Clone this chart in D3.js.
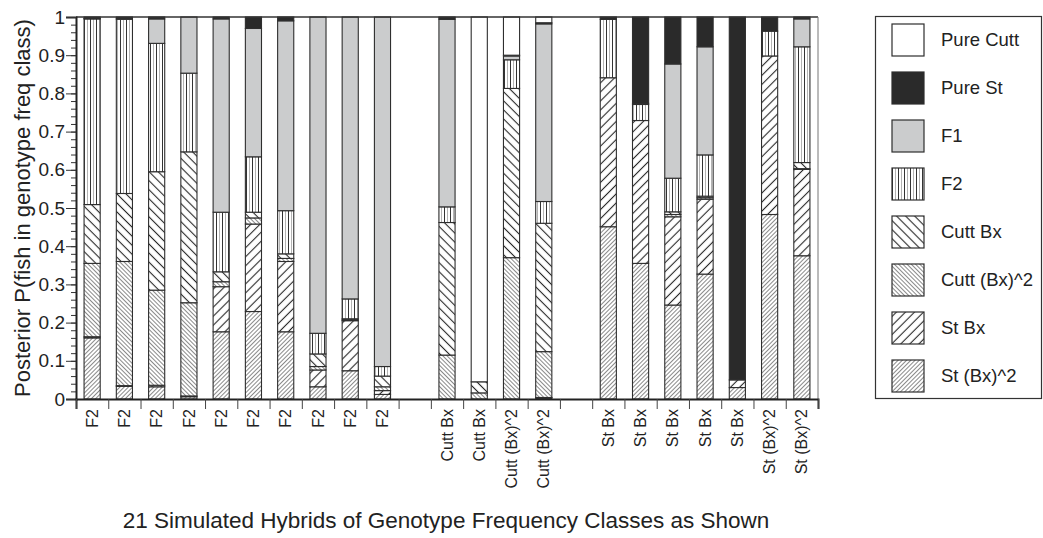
<!DOCTYPE html>
<html>
<head>
<meta charset="utf-8">
<script src="https://cdn.jsdelivr.net/npm/d3@7"></script>
<style>
  body { margin: 0; background: #fff; }
  svg { display: block; }
  text { font-family: "Liberation Sans", Arial, Helvetica, sans-serif; fill: #222; }
</style>
</head>
<body>
<svg id="chart" width="1043" height="538"></svg>
<script>
// Simulated hybrids: true genotype frequency class of each fish
const hybridLabels = [
  "F2", "F2", "F2", "F2", "F2", "F2", "F2", "F2", "F2", "F2",
  "Cutt Bx", "Cutt Bx", "Cutt (Bx)^2", "Cutt (Bx)^2",
  "St Bx", "St Bx", "St Bx", "St Bx", "St Bx", "St (Bx)^2", "St (Bx)^2"
];
const hybridGroups = [
  "F2", "F2", "F2", "F2", "F2", "F2", "F2", "F2", "F2", "F2",
  "Cutt", "Cutt", "Cutt", "Cutt",
  "St", "St", "St", "St", "St", "St", "St"
];

// Posterior probability of each genotype class, one value per hybrid
const stBx2    = [0.160, 0.033, 0.032, 0.006, 0.176, 0.229, 0.176, 0.032, 0.074, 0.012, 0, 0, 0, 0.003, 0.451, 0.355, 0.246, 0.327, 0.030, 0.483, 0.375];
const stBx     = [0.003, 0.002, 0.004, 0.002, 0.118, 0.229, 0.184, 0.044, 0.131, 0.010, 0, 0, 0, 0.001, 0.390, 0.374, 0.231, 0.196, 0.020, 0.415, 0.226];
const cuttBx2  = [0.192, 0.325, 0.249, 0.244, 0.013, 0.016, 0.008, 0.009, 0.002, 0.010, 0.115, 0.016, 0.370, 0.120, 0, 0, 0.006, 0.004, 0, 0, 0.002];
const cuttBx   = [0.154, 0.178, 0.310, 0.395, 0.026, 0.015, 0.012, 0.033, 0.003, 0.028, 0.347, 0.029, 0.443, 0.336, 0, 0, 0.007, 0.004, 0, 0, 0.016];
const f2       = [0.486, 0.456, 0.336, 0.206, 0.156, 0.145, 0.113, 0.054, 0.052, 0.025, 0.041, 0, 0.075, 0.057, 0.153, 0.042, 0.088, 0.108, 0, 0.065, 0.303];
const f1       = [0.001, 0.003, 0.064, 0.147, 0.506, 0.336, 0.497, 0.828, 0.738, 0.915, 0.491, 0, 0.010, 0.465, 0, 0.003, 0.299, 0.283, 0, 0, 0.073];
const pureSt   = [0.004, 0.003, 0.005, 0, 0.005, 0.030, 0.010, 0, 0, 0, 0.004, 0, 0.002, 0.003, 0.006, 0.226, 0.123, 0.078, 0.950, 0.037, 0.005];
const pureCutt = [0, 0, 0, 0, 0, 0, 0, 0, 0, 0, 0.002, 0.955, 0.100, 0.015, 0, 0, 0, 0, 0, 0, 0];

// Stack order, bottom to top
const classNames = ["St (Bx)^2", "St Bx", "Cutt (Bx)^2", "Cutt Bx", "F2", "F1", "Pure St", "Pure Cutt"];
const classValues = [stBx2, stBx, cuttBx2, cuttBx, f2, f1, pureSt, pureCutt];
// Legend order, top to bottom
const legendOrder = ["Pure Cutt", "Pure St", "F1", "F2", "Cutt Bx", "Cutt (Bx)^2", "St Bx", "St (Bx)^2"];

const yTicks = [0, 0.1, 0.2, 0.3, 0.4, 0.5, 0.6, 0.7, 0.8, 0.9, 1];
const xTitle = "21 Simulated Hybrids of Genotype Frequency Classes as Shown";
const yTitle = "Posterior P(fish in genotype freq class)";

const svg = d3.select("#chart");
const plot = { left: 76, right: 818, top: 17, bottom: 399 };

// ---- fill patterns ----
const defs = svg.append("defs");
const ink = "#262626";

function hatch(id, spacing, angle, stroke, width) {
  const p = defs.append("pattern")
    .attr("id", id)
    .attr("patternUnits", "userSpaceOnUse")
    .attr("width", spacing).attr("height", spacing)
    .attr("patternTransform", `rotate(${angle})`);
  p.append("rect").attr("width", spacing).attr("height", spacing).attr("fill", "#fff");
  p.append("line")
    .attr("x1", spacing / 2).attr("x2", spacing / 2)
    .attr("y1", 0).attr("y2", spacing)
    .attr("stroke", stroke).attr("stroke-width", width);
}
hatch("pat-cuttbx", 6.4, -45, ink, 1.1);
hatch("pat-cuttbx2", 3.0, -45, "#4a4a4a", 0.65);
hatch("pat-stbx", 6.4, 45, ink, 1.1);
hatch("pat-stbx2", 3.0, 45, "#4a4a4a", 0.65);

const pf2 = defs.append("pattern")
  .attr("id", "pat-f2")
  .attr("patternUnits", "userSpaceOnUse")
  .attr("width", 6).attr("height", 6);
pf2.append("rect").attr("width", 6).attr("height", 6).attr("fill", "#fff");
pf2.append("line").attr("x1", 0.5).attr("x2", 0.5).attr("y1", 0).attr("y2", 6)
  .attr("stroke", "#333").attr("stroke-width", 1);
pf2.append("line").attr("x1", 3.5).attr("x2", 3.5).attr("y1", 0).attr("y2", 6)
  .attr("stroke", "#a0a0a0").attr("stroke-width", 0.8);

const classFill = {
  "Pure Cutt": "#ffffff",
  "Pure St": "#2a2a2a",
  "F1": "#cbcccd",
  "F2": "url(#pat-f2)",
  "Cutt Bx": "url(#pat-cuttbx)",
  "Cutt (Bx)^2": "url(#pat-cuttbx2)",
  "St Bx": "url(#pat-stbx)",
  "St (Bx)^2": "url(#pat-stbx2)"
};

// ---- data table ----
const rows = hybridLabels.map((label, i) => {
  const r = { id: "h" + i, label, group: hybridGroups[i] };
  classNames.forEach((c, k) => { r[c] = classValues[k][i]; });
  return r;
});

// slots: one per hybrid, with an empty slot between groups
const slots = [];
rows.forEach((r, i) => {
  if (i > 0 && r.group !== rows[i - 1].group) slots.push("gap" + i);
  slots.push(r.id);
});

const x = d3.scaleBand().domain(slots).range([plot.left, plot.right]).paddingInner(0.5).paddingOuter(0.25);
const y = d3.scaleLinear().domain([0, 1]).range([plot.bottom, plot.top]);
const slotEdge = d3.scaleLinear().domain([0, slots.length]).range([plot.left, plot.right]);

const stacked = d3.stack().keys(classNames)(rows);

// ---- bars ----
const barLayer = svg.append("g");
stacked.forEach(layer => {
  barLayer.append("g")
    .selectAll("rect")
    .data(layer.filter(d => d[1] - d[0] > 0))
    .join("rect")
    .attr("x", d => x(d.data.id))
    .attr("width", x.bandwidth())
    .attr("y", d => y(d[1]))
    .attr("height", d => y(d[0]) - y(d[1]))
    .attr("fill", classFill[layer.key])
    .attr("stroke", "#2e2e2e")
    .attr("stroke-width", 1.1);
});

// ---- frame ----
svg.append("line")
  .attr("x1", plot.left).attr("x2", plot.right)
  .attr("y1", plot.top).attr("y2", plot.top)
  .attr("stroke", "#333").attr("stroke-width", 1.5);
svg.append("line")
  .attr("x1", plot.right).attr("x2", plot.right)
  .attr("y1", plot.top).attr("y2", plot.bottom)
  .attr("stroke", "#777").attr("stroke-width", 1);

// ---- y axis ----
const yMinor = d3.range(0, 51).map(i => i / 50);
svg.append("g")
  .attr("transform", `translate(${plot.left},0)`)
  .call(d3.axisLeft(y).tickValues(yMinor).tickSize(5).tickFormat(""))
  .call(g => g.select(".domain").remove())
  .call(g => g.selectAll("line").attr("stroke", "#333").attr("stroke-width", 1));

const yAxis = svg.append("g")
  .attr("transform", `translate(${plot.left},0)`)
  .call(d3.axisLeft(y).tickValues(yTicks).tickSize(10).tickPadding(1)
    .tickFormat(d => d === 0 ? "0" : d === 1 ? "1" : d3.format(".1f")(d)));
yAxis.select(".domain").attr("stroke", "#222").attr("stroke-width", 2);
yAxis.selectAll("line").attr("stroke", "#333").attr("stroke-width", 1);
yAxis.selectAll("text").style("font-size", "19px").attr("fill", "#222");

// ---- x axis ----
const xAxis = svg.append("g")
  .attr("transform", `translate(0,${plot.bottom})`)
  .call(d3.axisBottom(slotEdge).tickValues(d3.range(0, slots.length + 1)).tickSize(10).tickFormat(""));
xAxis.select(".domain").attr("stroke", "#222").attr("stroke-width", 2);
xAxis.selectAll("line").attr("stroke", "#444").attr("stroke-width", 1);

svg.append("g")
  .selectAll("text")
  .data(rows)
  .join("text")
  .attr("transform", d => `translate(${x(d.id) + x.bandwidth() / 2},${plot.bottom + 10}) rotate(-90)`)
  .attr("text-anchor", "end")
  .attr("dy", "0.35em")
  .style("font-size", "16px")
  .text(d => d.label);

// ---- titles ----
svg.append("text")
  .attr("x", 446).attr("y", 528)
  .attr("text-anchor", "middle")
  .style("font-size", "22.5px")
  .text(xTitle);

svg.append("text")
  .attr("transform", `translate(30,${(plot.top + plot.bottom) / 2}) rotate(-90)`)
  .attr("text-anchor", "middle")
  .style("font-size", "22px")
  .text(yTitle);

// ---- legend ----
const legend = svg.append("g");
legend.append("rect")
  .attr("x", 875.5).attr("y", 16.5)
  .attr("width", 166).attr("height", 382)
  .attr("fill", "#fff").attr("stroke", "#333").attr("stroke-width", 1.2);

const item = legend.selectAll("g.item")
  .data(legendOrder)
  .join("g")
  .attr("class", "item")
  .attr("transform", (d, i) => `translate(892,${24 + i * 48})`);
item.append("rect")
  .attr("width", 32).attr("height", 32)
  .attr("fill", d => classFill[d])
  .attr("stroke", "#2e2e2e").attr("stroke-width", 1.2);
item.append("text")
  .attr("x", 49).attr("y", 16).attr("dy", "0.35em")
  .style("font-size", "18.5px")
  .text(d => d);
</script>
</body>
</html>
